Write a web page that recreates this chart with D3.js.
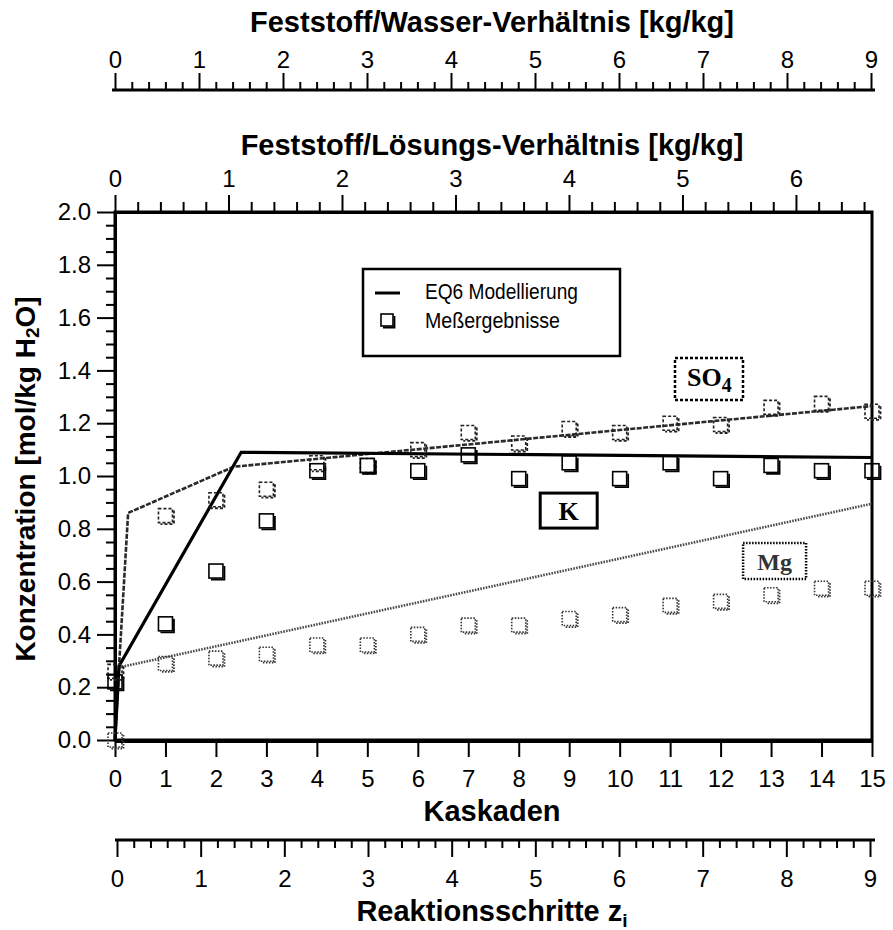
<!DOCTYPE html>
<html>
<head>
<meta charset="utf-8">
<script src="https://cdn.jsdelivr.net/npm/d3@7"></script>
<style>
  html, body { margin: 0; padding: 0; background: #fff; }
  svg { display: block; }
  text { font-family: "Liberation Sans", Arial, Helvetica, sans-serif; }
  .tick text { font-size: 24px; fill: #000; }
  .tick line { stroke: #000; stroke-width: 2; }
  .domain { stroke: #000; stroke-width: 3; }
  .minor .domain { stroke: none; }
  .title { font-size: 29px; font-weight: bold; }
  .serif { font-family: "Liberation Serif", "Times New Roman", serif; font-weight: bold; }
</style>
</head>
<body>
<svg id="chart" width="893" height="930"></svg>
<script>
// Cascade index (Kaskaden)
const kaskaden = d3.range(0, 16);

// Measured concentrations [mol/kg H2O] per cascade
const kMeas   = [0.22, 0.44, 0.64, 0.83, 1.02, 1.04, 1.02, 1.08, 0.99, 1.05, 0.99, 1.05, 0.99, 1.04, 1.02, 1.02];
const so4Meas = [0.26, 0.85, 0.91, 0.95, 1.05, 1.04, 1.10, 1.165, 1.125, 1.18, 1.165, 1.20, 1.195, 1.26, 1.275, 1.245];
const mgMeas  = [0.00, 0.29, 0.31, 0.325, 0.36, 0.36, 0.40, 0.435, 0.435, 0.46, 0.475, 0.51, 0.525, 0.55, 0.575, 0.575];

// EQ6 model curves (cascade, concentration)
const kModelX   = [0, 0.08, 2.5, 15];
const kModelY   = [0.0, 0.28, 1.09, 1.07];
const so4ModelX = [0, 0.08, 0.26, 2.35, 15];
const so4ModelY = [0.0, 0.28, 0.86, 1.035, 1.265];
const mgModelX  = [0, 0.08, 15];
const mgModelY  = [0.0, 0.275, 0.895];

// Tick values of the four horizontal scales and the concentration axis
const wasserTicks = d3.range(0, 10);
const loesungTicks = d3.range(0, 7);
const reaktionTicks = d3.range(0, 10);
const yTicks = [0, 0.2, 0.4, 0.6, 0.8, 1.0, 1.2, 1.4, 1.6, 1.8, 2.0];

// Series label boxes (cascade, concentration at box centre)
const seriesLabels = [
  { name: "SO4", x: 11.77, y: 1.367, w: 68, h: 42, dash: "3,2" },
  { name: "K",   x: 8.99,  y: 0.869, w: 57, h: 35, dash: null },
  { name: "Mg",  x: 13.07, y: 0.678, w: 63, h: 36, dash: "1.5,1.5" }
];

const svg = d3.select("#chart");

const plotLeft = 115, plotRight = 872, plotTop = 212, plotBottom = 740;

const x = d3.scaleLinear().domain([0, 15]).range([plotLeft, plotRight]);
const y = d3.scaleLinear().domain([0, 2]).range([plotBottom, plotTop]);
const xWasser = d3.scaleLinear().domain([0, 9]).range([115, 871]);
const xLoesung = d3.scaleLinear().domain([0, 6.67]).range([plotLeft, plotRight]);
const xReaktion = d3.scaleLinear().domain([0, 9]).range([117, 870]);

// intermediate tick positions between whole numbers
function minorVals(max, step) {
  const out = [];
  for (let v = 0; v <= max + 1e-9; v += step) {
    if (Math.abs(v - Math.round(v)) > 1e-6) out.push(+v.toFixed(3));
  }
  return out;
}

// draws minor ticks in their own group, then the labelled major ticks
function dualAxis(parent, makeAxis, scale, minor, major, minorSize, majorSize, pad, fmt) {
  parent.append("g").attr("class", "minor")
    .call(makeAxis(scale).tickValues(minor).tickSize(minorSize).tickSizeOuter(0).tickFormat(""));
  const g = parent.append("g").attr("class", "major")
    .call(makeAxis(scale).tickValues(major).tickSize(majorSize).tickSizeOuter(0).tickPadding(pad).tickFormat(fmt));
  return g;
}

// ---- Feststoff/Wasser axis (top) ----
const gW = svg.append("g").attr("transform", "translate(0,90)");
dualAxis(gW, d3.axisTop, xWasser, minorVals(9, 0.2), wasserTicks, 8, 17, 5, d3.format("d"))
  .selectAll(".domain").attr("d", "M112,0H875");
svg.append("text").attr("class", "title").attr("x", 492).attr("y", 32)
  .attr("text-anchor", "middle").text("Feststoff/Wasser-Verhältnis [kg/kg]");

// ---- Feststoff/Lösungs axis (top of plot) ----
const gL = svg.append("g").attr("transform", `translate(0,${plotTop})`);
dualAxis(gL, d3.axisTop, xLoesung, minorVals(6.67, 0.2), loesungTicks, 10, 17, 8, d3.format("d"));
svg.append("text").attr("class", "title").attr("x", 492).attr("y", 155)
  .attr("text-anchor", "middle").text("Feststoff/Lösungs-Verhältnis [kg/kg]");

// ---- Concentration axis (left) ----
const gY = svg.append("g").attr("transform", `translate(${plotLeft},0)`);
const yMinor = d3.range(0, 2.0001, 0.05).filter(v => Math.abs(v * 5 - Math.round(v * 5)) > 1e-6);
dualAxis(gY, d3.axisLeft, y, yMinor, yTicks, 9, 18, 6, d3.format(".1f"));

const yTitle = svg.append("text").attr("class", "title").style("font-size", "28px")
  .attr("transform", `translate(35,${(plotTop + plotBottom) / 2 + 3}) rotate(-90)`)
  .attr("text-anchor", "middle");
yTitle.append("tspan").text("Konzentration [mol/kg H");
yTitle.append("tspan").attr("baseline-shift", "-22%").style("font-size", "19px").text("2");
yTitle.append("tspan").text("O]");

// ---- Kaskaden axis (bottom of plot) ----
const gK = svg.append("g").attr("transform", `translate(0,${plotBottom + 1})`);
gK.call(d3.axisBottom(x).tickValues(kaskaden).tickSize(16).tickSizeOuter(0).tickPadding(13));
svg.append("text").attr("class", "title").attr("x", 492).attr("y", 821)
  .attr("text-anchor", "middle").text("Kaskaden");

// ---- Reaktionsschritte axis (bottom) ----
const gR = svg.append("g").attr("transform", "translate(0,840)");
dualAxis(gR, d3.axisBottom, xReaktion, minorVals(9, 0.2), reaktionTicks, 8, 17, 13, d3.format("d"))
  .selectAll(".domain").attr("d", "M115,0H875");
const rTitle = svg.append("text").attr("class", "title").attr("x", 492).attr("y", 921)
  .attr("text-anchor", "middle");
rTitle.append("tspan").text("Reaktionsschritte z");
rTitle.append("tspan").attr("baseline-shift", "-30%").style("font-size", "19px").text("i");

// ---- Plot frame ----
svg.append("rect").attr("x", plotLeft).attr("y", plotTop)
  .attr("width", plotRight - plotLeft).attr("height", plotBottom - plotTop)
  .attr("fill", "none").attr("stroke", "#000").attr("stroke-width", 3);

// ---- Model lines ----
const line = d3.line().x(d => x(d[0])).y(d => y(d[1]));
const models = [
  { xs: mgModelX,  ys: mgModelY,  stroke: "#4a4a4a", width: 2.6, dash: "1.6,1.2" },
  { xs: so4ModelX, ys: so4ModelY, stroke: "#2a2a2a", width: 2.6, dash: "5,1.5" },
  { xs: kModelX,   ys: kModelY,   stroke: "#000",    width: 3.2, dash: null }
];
models.forEach(m => {
  svg.append("path").datum(m.xs.map((v, i) => [v, m.ys[i]]))
    .attr("d", line).attr("fill", "none")
    .attr("stroke", m.stroke).attr("stroke-width", m.width)
    .attr("stroke-dasharray", m.dash).attr("stroke-linejoin", "miter");
});

// ---- Measured values as shaded squares ----
function square(g, cx, cy, s, stroke, dash) {
  const h = s / 2;
  g.append("rect").attr("x", cx - h).attr("y", cy - h).attr("width", s).attr("height", s)
    .attr("fill", "none").attr("stroke", stroke).attr("stroke-width", 1.6).attr("stroke-dasharray", dash);
  g.append("path").attr("d", `M${cx + h + 1.5},${cy - h + 2}V${cy + h + 1.5}H${cx - h + 2}`)
    .attr("fill", "none").attr("stroke", stroke).attr("stroke-width", 1.8).attr("stroke-dasharray", dash);
}
const series = [
  { vals: mgMeas,  stroke: "#333", dash: "1.5,1.5" },
  { vals: so4Meas, stroke: "#222", dash: "3,2" },
  { vals: kMeas,   stroke: "#000", dash: null }
];
const gPts = svg.append("g");
series.forEach(s => {
  s.vals.forEach((v, i) => square(gPts, x(kaskaden[i]), y(v), 14, s.stroke, s.dash));
});

// ---- Series label boxes ----
seriesLabels.forEach(l => {
  const cx = x(l.x), cy = y(l.y);
  const g = svg.append("g");
  g.append("rect").attr("x", cx - l.w / 2).attr("y", cy - l.h / 2).attr("width", l.w).attr("height", l.h)
    .attr("fill", "#fff").attr("stroke", "#000")
    .attr("stroke-width", l.dash ? 2.5 : 3).attr("stroke-dasharray", l.dash);
  if (l.name === "SO4") {
    const t = g.append("text").attr("class", "serif").attr("x", cx - 22).attr("y", cy + 7)
      .style("font-size", "26px");
    t.append("tspan").text("SO");
    t.append("tspan").attr("baseline-shift", "-30%").style("font-size", "20px").text("4");
  } else {
    g.append("text").attr("class", "serif").attr("x", cx).attr("y", cy + 9)
      .attr("text-anchor", "middle").style("font-size", l.name === "K" ? "26px" : "24px")
      .attr("fill", l.name === "Mg" ? "#333" : "#000").text(l.name);
  }
});

// ---- Legend ----
const lg = svg.append("g");
lg.append("rect").attr("x", 363).attr("y", 269).attr("width", 257).attr("height", 87)
  .attr("fill", "#fff").attr("stroke", "#000").attr("stroke-width", 2.5);
lg.append("line").attr("x1", 375).attr("x2", 400).attr("y1", 293).attr("y2", 293)
  .attr("stroke", "#000").attr("stroke-width", 3);
square(lg, 387, 320, 12, "#000", null);
lg.append("text").attr("x", 425).attr("y", 299).style("font-size", "22px")
  .attr("textLength", 153).attr("lengthAdjust", "spacingAndGlyphs").text("EQ6 Modellierung");
lg.append("text").attr("x", 425).attr("y", 328).style("font-size", "22px")
  .attr("textLength", 135).attr("lengthAdjust", "spacingAndGlyphs").text("Meßergebnisse");
</script>
</body>
</html>
